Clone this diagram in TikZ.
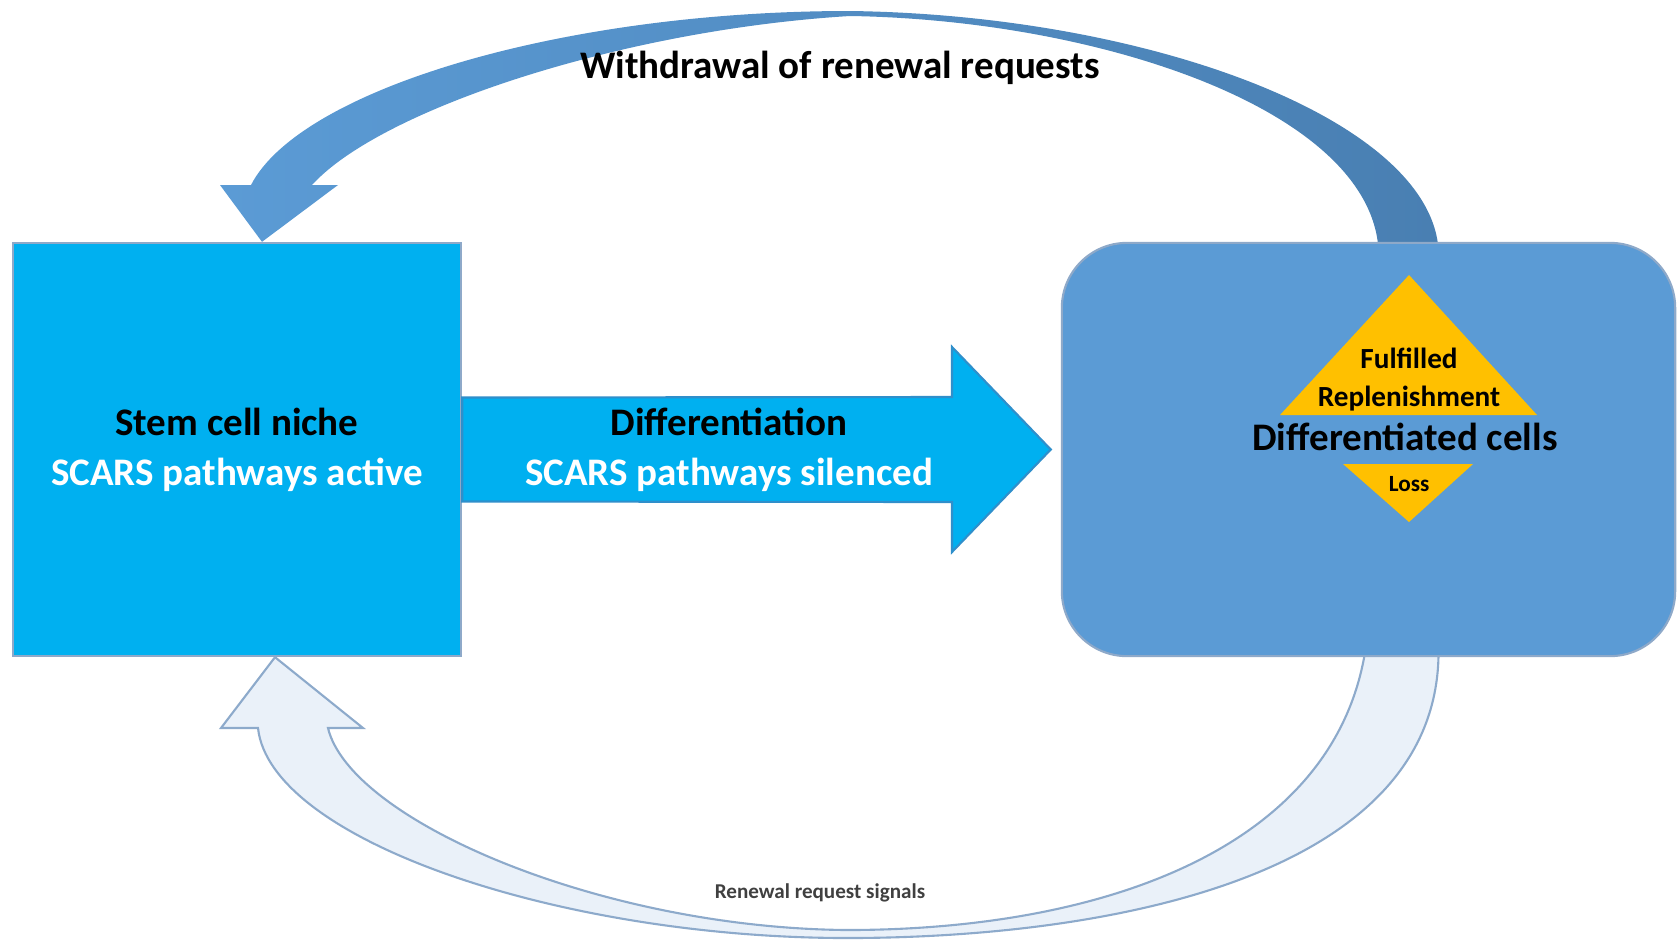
\documentclass[tikz,border=0pt]{standalone}
\usepackage{fontspec}
\setmainfont{Carlito}
\usetikzlibrary{calc}
\usetikzlibrary{backgrounds}
\definecolor{nicheblue}{HTML}{00B0F0}
\definecolor{cellblue}{HTML}{5B9BD5}
\definecolor{goldtri}{HTML}{FFC000}
\definecolor{arclight}{HTML}{5B9BD5}
\definecolor{arcdark}{HTML}{497FB2}
\definecolor{signalfill}{HTML}{EAF1F9}
\definecolor{signalline}{HTML}{8DAACB}
\definecolor{edgeline}{HTML}{8EA9C9}
\definecolor{flowline}{HTML}{2F8FCB}
\definecolor{signaltext}{HTML}{404040}

\begin{document}
\begin{tikzpicture}
		[x=0.01cm,y=-0.01cm,
		 font=\fontsize{11.1}{14.2}\selectfont\bfseries,
		 box/.style={rectangle,draw=edgeline,line width=0.6pt,align=center,inner sep=0pt,
			minimum width=4.48cm,minimum height=4.13cm},
		 flow/.style={fill=nicheblue,draw=flowline,line width=0.6pt},
		 withdraw/.style={left color=arclight,right color=arcdark},
		 signal/.style={fill=signalfill,draw=signalline,line width=0.6pt},
		 tri/.style={fill=goldtri}]

		\useasboundingbox (0,0) rectangle (1677,939);

		\node[box,fill=nicheblue] (niche) at (237,449.5) {Stem cell niche\\\textcolor{white}{SCARS pathways active}};
		\node[box,fill=cellblue,rounded corners=0.65cm,minimum width=6.13cm] (cells) at (1368.5,449.5) {};

		\filldraw[flow] ($(niche.east)+(0,-52)$) -- (952,397) -- (952,347) -- ($(cells.west)+(-10,0)$)
			-- (952,552) -- (952,502) -- ($(niche.east)+(0,52)$) -- cycle;
		\node[align=center] (difftext) at (729,450) {Differentiation\\\textcolor{white}{SCARS pathways silenced}};

		\fill[tri] (1409,275) -- (1537,415) -- (1280,415) -- cycle;
		\fill[tri] (1343,464) -- (1473,464) -- (1409,522) -- cycle;
		\node[align=center,font=\fontsize{8.3}{10.8}\selectfont\bfseries] (replenish) at (1409,380) {Fulfilled\\Replenishment};
		\node (cellsname) at (1405,437) {Differentiated cells};
		\node[font=\fontsize{6.6}{8}\selectfont\bfseries] (loss) at (1409,484) {Loss};

		\begin{scope}[on background layer]
			\shade[withdraw] ($(cells.north)+(70,8)$) .. controls (1430,120) and (1150,15) .. (850,11)
				.. controls (560,11) and (300,90) .. (251,185) -- (220,185) -- ($(niche.north)+(25,0)$)
				-- (338,185) -- (312,185) .. controls (380,110) and (620,30) .. (850,16)
				.. controls (1100,20) and (1370,110) .. ($(cells.north)+(10,8)$) -- cycle;
			\filldraw[signal] ($(cells.south)+(70,-2)$) .. controls (1435,880) and (1100,938) .. (847,938)
				.. controls (560,938) and (270,840) .. (258,728) -- (221,728) -- ($(niche.south)+(38,0)$)
				-- (363,728) -- (328,728) .. controls (350,820) and (600,928) .. (847,930)
				.. controls (1100,930) and (1330,850) .. ($(cells.south)+(-4,-2)$) -- cycle;
		\end{scope}

		\node (withdrawlabel) at (840,68) {Withdrawal of renewal requests};
		\node[font=\fontsize{6}{7}\selectfont\bfseries,text=signaltext] (signallabel) at (820,893) {Renewal request signals};
	\end{tikzpicture}
\end{document}
